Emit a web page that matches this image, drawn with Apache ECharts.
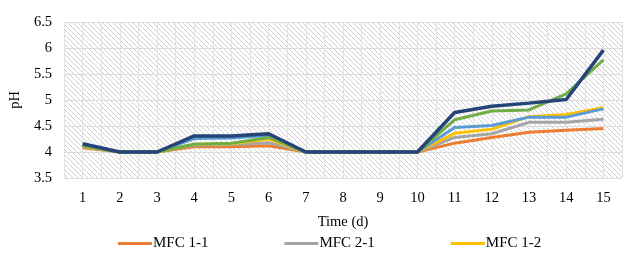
<!DOCTYPE html>
<html><head><meta charset="utf-8">
<script src="https://cdn.jsdelivr.net/npm/echarts@6/dist/echarts.min.js"></script>
<style>html,body{margin:0;padding:0;background:#fff}#c{width:637px;height:263px}</style>
</head><body><div id="c"></div>
<script>
const days = ['1','2','3','4','5','6','7','8','9','10','11','12','13','14','15'];
const mfc11 = [4.08, 4, 4, 4.10, 4.10, 4.12, 4, 4, 4, 4, 4.17, 4.28, 4.38, 4.42, 4.45];
const mfc21 = [4.10, 4, 4, 4.13, 4.14, 4.18, 4, 4, 4, 4, 4.28, 4.35, 4.57, 4.57, 4.63];
const mfc12 = [4.11, 4, 4, 4.15, 4.16, 4.25, 4, 4, 4, 4, 4.36, 4.44, 4.68, 4.72, 4.85];
const mfc22 = [4.13, 4, 4, 4.26, 4.27, 4.32, 4, 4, 4, 4, 4.47, 4.51, 4.67, 4.67, 4.83];
const mfc13 = [4.12, 4, 4, 4.15, 4.17, 4.28, 4, 4, 4, 4, 4.62, 4.79, 4.81, 5.12, 5.77];
const mfc23 = [4.16, 4, 4, 4.31, 4.31, 4.35, 4, 4, 4, 4, 4.76, 4.88, 4.94, 5.01, 5.96];

const cv = document.createElement('canvas');
cv.width = 5; cv.height = 5;
const cx = cv.getContext('2d');
cx.fillStyle = '#ffffff'; cx.fillRect(0,0,5,5);
cx.strokeStyle = '#d0d0d0'; cx.lineWidth = 1;
cx.beginPath();
cx.moveTo(-1,-1); cx.lineTo(6,6);
cx.moveTo(-1,4); cx.lineTo(1,6);
cx.moveTo(4,-1); cx.lineTo(6,1);
cx.stroke();

const font = '"Liberation Serif", "Times New Roman", serif';
function ser(name, data, color, w) {
  return {name, type:'line', data, xAxisIndex:0, yAxisIndex:0, symbol:'none',
    lineStyle:{color, width:w}, itemStyle:{color}, animation:false};
}
const chart = echarts.init(document.getElementById('c'));
chart.setOption({
  animation:false,
  grid:{left:64, right:15, top:22, bottom:85, show:true, borderWidth:0,
    backgroundColor:{image:cv, repeat:'repeat'}},
  legend:{data:['MFC 1-1','MFC 2-1','MFC 1-2'], left:113, top:231, icon:'rect',
    itemWidth:34, itemHeight:3, itemGap:76,
    textStyle:{fontFamily:font, fontSize:15, color:'#000', padding:[0,0,0,-4]}},
  xAxis:[{type:'category', data:days, boundaryGap:true,
    name:'Time (d)', nameLocation:'middle', nameGap:37,
    nameTextStyle:{fontFamily:font, fontSize:14.5, color:'#000'},
    axisLine:{show:false}, axisTick:{show:false},
    axisLabel:{fontFamily:font, fontSize:14.5, color:'#000', margin:13},
    splitLine:{show:false}},
   {type:'value', min:0, max:30, interval:1, position:'top', show:true,
    axisLine:{show:false}, axisTick:{show:false}, axisLabel:{show:false},
    splitLine:{show:true, lineStyle:{color:'#e2e2e2', width:1}}}],
  yAxis:{type:'value', min:3.5, max:6.5, interval:0.5,
    name:'pH', nameLocation:'middle', nameGap:40, nameRotate:90,
    nameTextStyle:{fontFamily:font, fontSize:14.5, color:'#000'},
    axisLine:{show:false}, axisTick:{show:false},
    axisLabel:{fontFamily:font, fontSize:14.5, color:'#000', margin:12},
    splitLine:{lineStyle:{color:'#dcdcdc', width:1}}},
  series:[
    ser('MFC 1-1', mfc11, '#ED7D31', 3),
    ser('MFC 2-1', mfc21, '#A5A5A5', 3),
    ser('MFC 1-2', mfc12, '#FFC000', 3),
    ser('MFC 2-2', mfc22, '#5B9BD5', 3),
    ser('MFC 1-3', mfc13, '#70AD47', 3),
    ser('MFC 2-3', mfc23, '#264478', 3.5)
  ]
});
</script></body></html>
